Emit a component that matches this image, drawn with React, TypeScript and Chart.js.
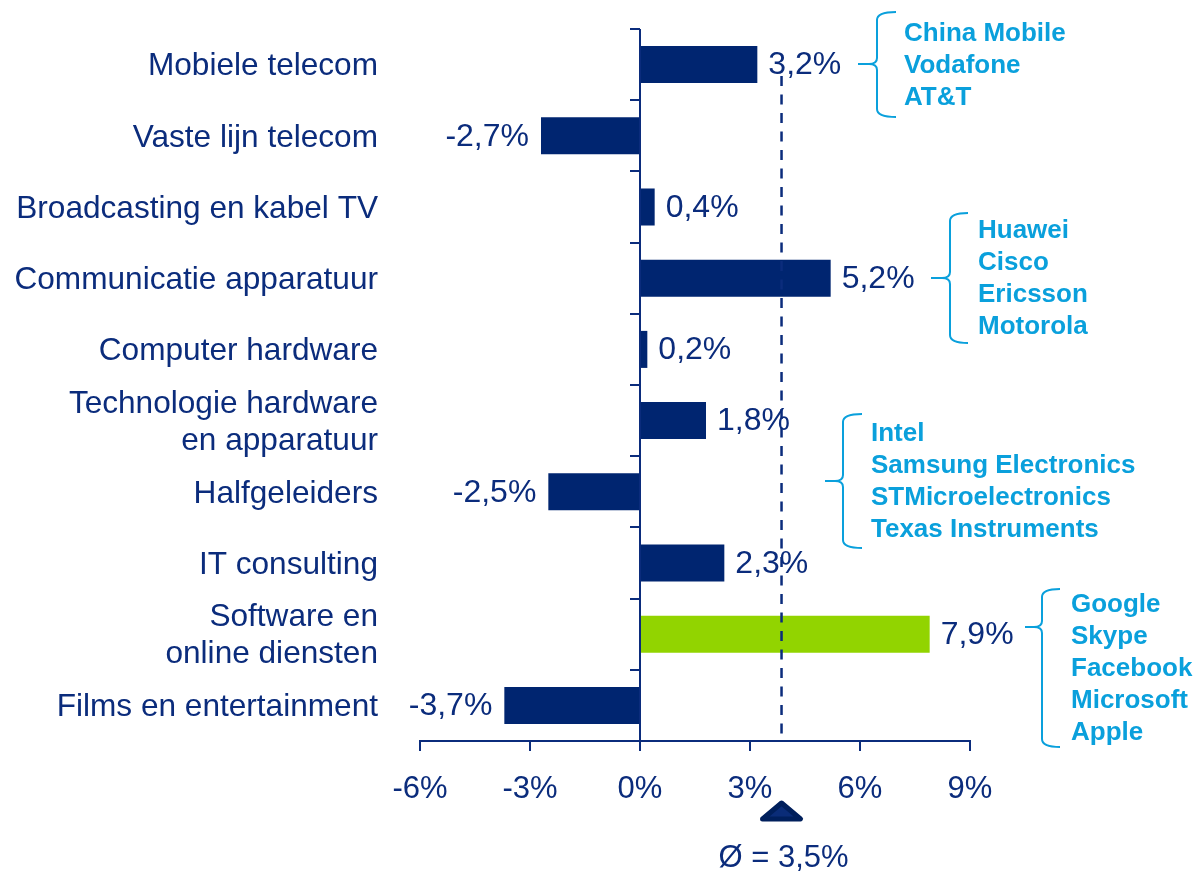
import React, { useEffect, useRef } from "react";
import { Chart, registerables } from "chart.js";

Chart.register(...registerables);

// ---------- data ----------
const categories: (string | string[])[] = [
  "Mobiele telecom",
  "Vaste lijn telecom",
  "Broadcasting en kabel TV",
  "Communicatie apparatuur",
  "Computer hardware",
  ["Technologie hardware", "en apparatuur"],
  "Halfgeleiders",
  "IT consulting",
  ["Software en", "online diensten"],
  "Films en entertainment",
];
const growth = [3.2, -2.7, 0.4, 5.2, 0.2, 1.8, -2.5, 2.3, 7.9, -3.7];
const highlightIndex = 8;
const xMin = -6;
const xMax = 9;
const xStep = 3;
const averageMarker = 3.86; // where the dashed average line is drawn
const averageLabel = "Ø = 3,5%";
const groupCompanies: string[][] = [
  ["China Mobile", "Vodafone", "AT&T"],
  ["Huawei", "Cisco", "Ericsson", "Motorola"],
  ["Intel", "Samsung Electronics", "STMicroelectronics", "Texas Instruments"],
  ["Google", "Skype", "Facebook", "Microsoft", "Apple"],
];

// ---------- styles ----------
const FONT = "'Liberation Sans', Arial, Helvetica, sans-serif";
const NAVY = "#002570";
const TEXT = "#0B2C7C";
const GREEN = "#92D400";
const CYAN = "#0AA0DC";

const fmt = (v: number) => `${v.toFixed(1).replace(".", ",")}%`;

// brace layout (canvas pixels)
const braceLayout = [
  { tipX: 858, vertX: 877, endX: 896, tipY: 64, top: 12, bottom: 117, textX: 904 },
  { tipX: 931, vertX: 950, endX: 968, tipY: 278, top: 213, bottom: 343, textX: 978 },
  { tipX: 825, vertX: 843, endX: 862, tipY: 481, top: 414, bottom: 548, textX: 871 },
  { tipX: 1025, vertX: 1042, endX: 1060, tipY: 627, top: 589, bottom: 747, textX: 1071 },
];

const decorPlugin = {
  id: "decor",
  afterDatasetsDraw(chart: any) {
    const { ctx, chartArea, scales } = chart;
    const xs = scales.x;
    const x0 = Math.round(xs.getPixelForValue(0));

    ctx.save();
    // zero axis with category tick marks
    ctx.strokeStyle = TEXT;
    ctx.lineWidth = 2;
    ctx.beginPath();
    ctx.moveTo(x0, chartArea.top);
    ctx.lineTo(x0, chartArea.bottom);
    const n = categories.length;
    const h = (chartArea.bottom - chartArea.top) / n;
    for (let i = 0; i <= n; i++) {
      const y = Math.round(chartArea.top + i * h);
      ctx.moveTo(x0 - 10, y);
      ctx.lineTo(x0, y);
    }
    ctx.stroke();

    // dashed average line
    const xa = xs.getPixelForValue(averageMarker);
    ctx.strokeStyle = TEXT;
    ctx.lineWidth = 2.5;
    ctx.setLineDash([10, 8.5]);
    ctx.beginPath();
    ctx.moveTo(xa, chartArea.top + 47);
    ctx.lineTo(xa, chartArea.bottom - 4);
    ctx.stroke();
    ctx.setLineDash([]);

    // value labels
    const meta = chart.getDatasetMeta(0);
    ctx.font = `32px ${FONT}`;
    ctx.fillStyle = TEXT;
    ctx.textBaseline = "middle";
    meta.data.forEach((bar: any, i: number) => {
      const v = growth[i];
      if (v >= 0) {
        ctx.textAlign = "left";
        ctx.fillText(fmt(v), bar.x + 11, bar.y + 1);
      } else {
        ctx.textAlign = "right";
        ctx.fillText(fmt(v), bar.x - 12, bar.y + 1);
      }
    });

    // average marker triangle + label
    const triTop = 803;
    const triBot = 819;
    ctx.fillStyle = "#0A2C78";
    ctx.strokeStyle = "#001F5C";
    ctx.lineWidth = 5;
    ctx.lineJoin = "round";
    ctx.beginPath();
    ctx.moveTo(xa, triTop);
    ctx.lineTo(xa + 19, triBot);
    ctx.lineTo(xa - 19, triBot);
    ctx.closePath();
    ctx.fill();
    ctx.stroke();
    ctx.fillStyle = TEXT;
    ctx.textAlign = "center";
    ctx.font = `31px ${FONT}`;
    ctx.fillText(averageLabel, xa + 2, 858);

    // braces with company names
    ctx.strokeStyle = CYAN;
    ctx.lineWidth = 2;
    ctx.lineJoin = "miter";
    ctx.font = `bold 26px ${FONT}`;
    ctx.fillStyle = CYAN;
    ctx.textAlign = "left";
    braceLayout.forEach((b, gi) => {
      const r = 8;
      ctx.beginPath();
      ctx.moveTo(b.endX, b.top);
      ctx.quadraticCurveTo(b.vertX, b.top, b.vertX, b.top + r);
      ctx.lineTo(b.vertX, b.tipY - 6);
      ctx.quadraticCurveTo(b.vertX, b.tipY, b.vertX - 8, b.tipY);
      ctx.lineTo(b.tipX, b.tipY);
      ctx.moveTo(b.vertX - 8, b.tipY);
      ctx.quadraticCurveTo(b.vertX, b.tipY, b.vertX, b.tipY + 6);
      ctx.lineTo(b.vertX, b.bottom - r);
      ctx.quadraticCurveTo(b.vertX, b.bottom, b.endX, b.bottom);
      ctx.stroke();

      const names = groupCompanies[gi];
      const mid = (b.top + b.bottom) / 2;
      const step = 32;
      names.forEach((nm, k) => {
        const y = mid + (k - (names.length - 1) / 2) * step;
        ctx.fillText(nm, b.textX, y + 1);
      });
    });
    ctx.restore();
  },
};

export default function App() {
  const ref = useRef<HTMLCanvasElement | null>(null);

  useEffect(() => {
    if (!ref.current) return;
    const chart = new Chart(ref.current, {
      type: "bar",
      data: {
        labels: categories,
        datasets: [
          {
            data: growth,
            backgroundColor: growth.map((_, i) => (i === highlightIndex ? GREEN : NAVY)),
            borderWidth: 0,
            barPercentage: 0.52,
            categoryPercentage: 1,
          },
        ],
      },
      options: {
        indexAxis: "y",
        responsive: false,
        animation: false,
        layout: { padding: { top: 29, right: 228, left: 0, bottom: 0 } },
        plugins: {
          legend: { display: false },
          tooltip: { enabled: false },
          title: { display: false },
        },
        scales: {
          x: {
            type: "linear",
            min: xMin,
            max: xMax,
            ticks: {
              stepSize: xStep,
              callback: (v: any) => `${v}%`,
              color: TEXT,
              font: { family: FONT, size: 31 },
              padding: 20,
              maxRotation: 0,
            },
            grid: {
              display: true,
              drawOnChartArea: false,
              drawTicks: true,
              tickLength: 10,
              color: TEXT,
              lineWidth: 2,
            },
            border: { display: true, color: TEXT, width: 2 },
            afterFit: (s: any) => {
              s.height = 130;
              s.paddingLeft = 0;
              s.paddingRight = 0;
            },
          },
          y: {
            type: "category",
            ticks: {
              color: TEXT,
              font: { family: FONT, size: 31.6, lineHeight: 1.17 },
              padding: 42,
              labelOffset: 2,
              autoSkip: false,
            },
            grid: { display: false, drawTicks: false },
            border: { display: false },
            afterFit: (s: any) => {
              s.width = 420;
              s.paddingTop = 0;
              s.paddingBottom = 0;
            },
          },
        },
      },
      plugins: [decorPlugin],
    } as any);
    return () => chart.destroy();
  }, []);

  return (
    <div style={{ position: "fixed", left: 0, top: 0, width: 1198, height: 871, background: "#fff" }}>
      <canvas ref={ref} width={1198} height={871} style={{ display: "block" }} />
    </div>
  );
}
